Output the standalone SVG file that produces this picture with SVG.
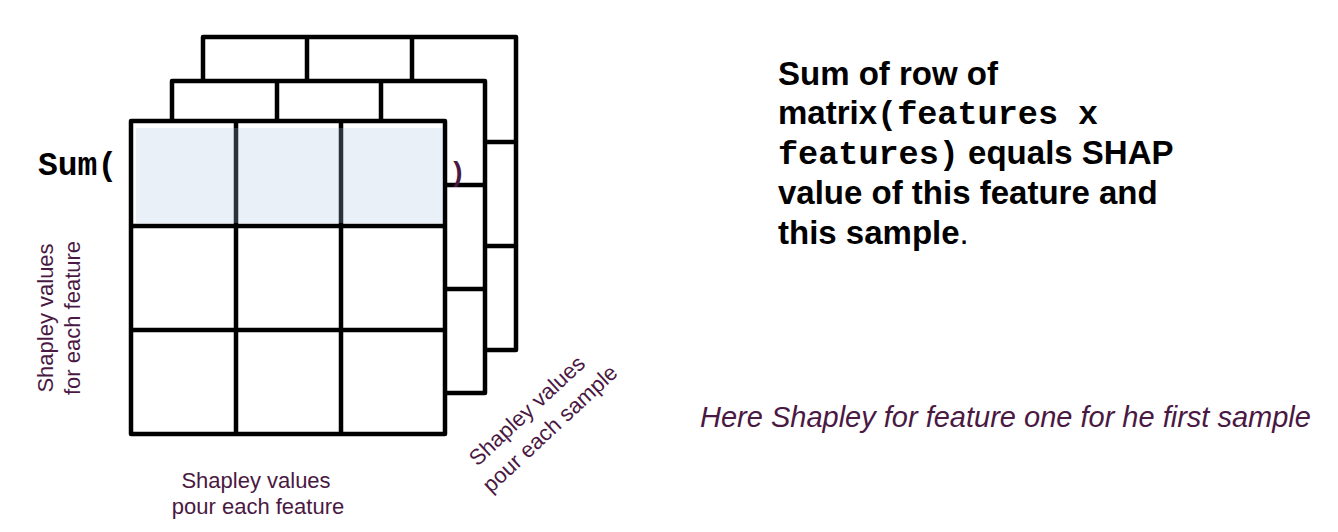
<svg xmlns="http://www.w3.org/2000/svg" width="1338" height="532" viewBox="0 0 1338 532">
<style>
.grid{fill:#fff;stroke:#000;stroke-width:4.5;stroke-linejoin:round}
.ln{stroke:#000;stroke-width:4.5;fill:none}
.lab{font-family:"Liberation Sans",Arial,sans-serif;font-size:22px;fill:#4a1943}
.mono{font-family:"Liberation Mono","Courier New",monospace;font-weight:bold}
.bold{font-family:"Liberation Sans",Arial,sans-serif;font-weight:bold;font-size:33px;fill:#000}
</style>
<rect width="1338" height="532" fill="#fff"/>
<g id="back-matrix">
<rect class="grid" x="203" y="37" width="313" height="313"/>
<path class="ln" d="M307,37V350M412,37V350M203,142H516M203,246H516"/>
</g>
<g id="middle-matrix">
<rect class="grid" x="172" y="81" width="313" height="312"/>
<path class="ln" d="M277,81V393M381,81V393M172,185H485M172,289H485"/>
</g>
<g id="front-matrix">
<rect class="grid" x="131" y="121" width="314" height="313"/>
<path class="ln" d="M236,121V434M341,121V434M131,226H445M131,330H445"/>
<rect x="136" y="128" width="307" height="95" fill="#a8c4e0" fill-opacity="0.25"/>
</g>
<g id="sum-label">
<text class="mono" x="38" y="175" font-size="33" fill="#000">Sum(</text>
<text class="mono" x="449" y="181" font-size="28" fill="#4a1943">)</text>
</g>
<g id="axis-feature-rows">
<text class="lab" transform="translate(53,318) rotate(-90)" text-anchor="middle">Shapley values</text>
<text class="lab" transform="translate(80,318) rotate(-90)" text-anchor="middle">for each feature</text>
</g>
<g id="axis-feature-cols">
<text class="lab" x="256" y="488" text-anchor="middle">Shapley values</text>
<text class="lab" x="258" y="514" text-anchor="middle">pour each feature</text>
</g>
<g id="axis-samples">
<text class="lab" transform="translate(532,416) rotate(-43)" text-anchor="middle">Shapley values</text>
<text class="lab" transform="translate(555,434) rotate(-43)" text-anchor="middle">pour each sample</text>
</g>
<g id="description">
<text class="bold" x="778" y="85">Sum of row of</text>
<text class="bold" x="778" y="124">matrix<tspan class="mono" font-size="33.5">(features x</tspan></text>
<text class="bold" x="778" y="164"><tspan class="mono" font-size="33.5">features)</tspan> equals SHAP</text>
<text class="bold" x="778" y="204">value of this feature and</text>
<text class="bold" x="778" y="244">this sample<tspan font-weight="normal">.</tspan></text>
</g>
<g id="note">
<text x="700" y="427" font-family="'Liberation Sans',Arial,sans-serif" font-style="italic" font-size="29" fill="#4a1943">Here Shapley for feature one for he first sample</text>
</g>
</svg>
